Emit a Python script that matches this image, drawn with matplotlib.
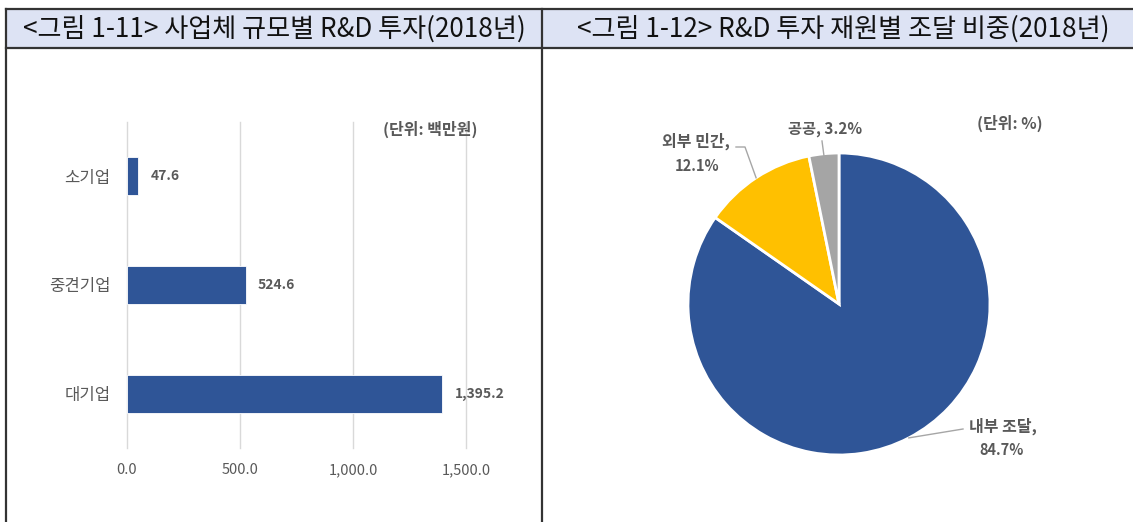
import matplotlib
matplotlib.use("Agg")
import matplotlib.pyplot as plt
import numpy as np
from matplotlib.lines import Line2D
from matplotlib.patches import Rectangle

plt.rcParams['font.family'] = ['Noto Sans CJK KR', 'DejaVu Sans']

# ---- data ----
bar_categories = ['대기업', '중견기업', '소기업']
bar_values = [1395.2, 524.6, 47.6]
bar_value_labels = ['1,395.2', '524.6', '47.6']
bar_ticks = [0, 500, 1000, 1500]
bar_tick_labels = ['0.0', '500.0', '1,000.0', '1,500.0']

pie_labels = ['내부 조달', '외부 민간', '공공']
pie_values = [84.7, 12.1, 3.2]

title_left = '<그림 1-11> 사업체 규모별 R&D 투자(2018년)'
title_right = '<그림 1-12> R&D 투자 재원별 조달 비중(2018년)'

W, H = 1133, 522
fig = plt.figure(figsize=(W / 100, H / 100), dpi=100)
fig.patch.set_facecolor('white')

def fx(px):
    return px / W

def fy(py):
    return 1 - py / H

TEXT = '#595959'
BLUE = '#2F5597'
YELLOW = '#FFC000'
GREY = '#A5A5A5'

# ---- header / frame ----
fig.add_artist(Rectangle((fx(6), fy(48)), 1 - fx(6), fy(9) - fy(48),
                         transform=fig.transFigure, facecolor='#DDE3F4',
                         edgecolor='none', zorder=0))
for (x0, y0, x1, y1) in [(6, 9, W, 9), (6, 48, W, 48), (6, 9, 6, H), (542, 9, 542, H)]:
    fig.add_artist(Line2D([fx(x0), fx(x1)], [fy(y0), fy(y1)], transform=fig.transFigure,
                          color='#333333', lw=1.6, zorder=1))
fig.text(fx(274), fy(29), title_left, ha='center', va='center', fontsize=18.8, color='#111111')
fig.text(fx(843), fy(29), title_right, ha='center', va='center', fontsize=18.8, color='#111111')

# ---- bar chart ----
ax = fig.add_axes([fx(127), fy(448), fx(466) - fx(127), fy(122) - fy(448)])
ypos = list(range(len(bar_categories)))
ax.barh(ypos, bar_values, height=0.35, color=BLUE, edgecolor='white', linewidth=0.6, zorder=3)
ax.set_xlim(0, 1500)
ax.set_ylim(-0.5, 2.5)
ax.set_xticks(bar_ticks)
ax.set_xticklabels(bar_tick_labels, fontsize=10.5, color=TEXT, fontweight='medium')
ax.set_yticks(ypos)
ax.set_yticklabels(bar_categories, fontsize=12, color=TEXT)
ax.tick_params(axis='both', length=0)
ax.tick_params(axis='x', pad=11)
ax.tick_params(axis='y', pad=12)
for t in bar_ticks:
    ax.axvline(t, color='#D9D9D9', lw=1, zorder=0, clip_on=False)
for s in ax.spines.values():
    s.set_visible(False)
for y, v, lab in zip(ypos, bar_values, bar_value_labels):
    ax.annotate(lab, (v, y), xytext=(9, 0), textcoords='offset points',
                ha='left', va='center', fontsize=10, fontweight='bold', color=TEXT)
fig.text(fx(430), fy(129), '(단위: 백만원)', ha='center', va='center', fontsize=11.5,
         fontweight='bold', color=TEXT)

# ---- pie chart ----
cx, cy, r = 839, 304, 151
pax = fig.add_axes([fx(cx - r), fy(cy + r), fx(2 * r), fy(0) - fy(2 * r)])
wedges, _ = pax.pie(pie_values, colors=[BLUE, YELLOW, GREY], startangle=90, counterclock=False,
                    wedgeprops=dict(edgecolor='white', linewidth=2), radius=1)
pax.set_xlim(-1, 1)
pax.set_ylim(-1, 1)
pax.set_aspect('equal')
pax.axis('off')

def d(px, py):
    return ((px - cx) / r, (cy - py) / r)

def edge(w, rr=1.0):
    a = np.deg2rad((w.theta1 + w.theta2) / 2)
    return (rr * np.cos(a), rr * np.sin(a))

LC = '#A6A6A6'
kw_name = dict(fontsize=11.5, fontweight='bold', color=TEXT, ha='center', va='center')
kw_pct = dict(fontsize=10.5, fontweight='bold', color=TEXT, ha='center', va='center')

# 내부 조달
e = edge(wedges[0])
p = d(963, 429)
pax.plot([e[0], p[0]], [e[1], p[1]], color=LC, lw=1, clip_on=False)
pax.text(*d(1003, 426), f'{pie_labels[0]},', clip_on=False, **kw_name)
pax.text(*d(1002, 450), f'{pie_values[0]}%', clip_on=False, **kw_pct)

# 외부 민간
e = edge(wedges[1])
p1 = d(745, 147)
p2 = d(736, 147)
pax.plot([e[0], p1[0], p2[0]], [e[1], p1[1], p2[1]], color=LC, lw=1, clip_on=False)
pax.text(*d(696, 141), f'{pie_labels[1]},', clip_on=False, **kw_name)
pax.text(*d(697, 166), f'{pie_values[1]}%', clip_on=False, **kw_pct)

# 공공
e = edge(wedges[2], 0.97)
p = d(822, 141)
pax.plot([e[0], p[0]], [e[1], p[1]], color=LC, lw=1, clip_on=False)
pax.text(*d(825, 129), f'{pie_labels[2]}, {pie_values[2]}%', clip_on=False,
         **dict(kw_pct, fontsize=11))

fig.text(fx(1010), fy(123), '(단위: %)', ha='center', va='center', fontsize=11.5,
         fontweight='bold', color=TEXT)

fig.savefig('out.png', dpi=100, facecolor='white')
